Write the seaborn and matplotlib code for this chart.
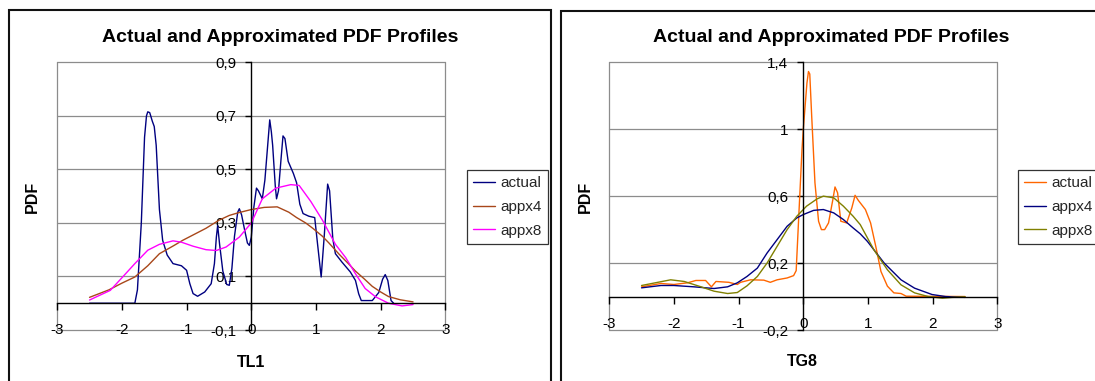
import numpy as np
import pandas as pd
import matplotlib
matplotlib.use("Agg")
import matplotlib.pyplot as plt
import seaborn as sns
from matplotlib.patches import Rectangle

# ---- data: TL1 panel ----
tl1_actual_x = [-2.5, -1.8, -1.76, -1.70, -1.65, -1.62, -1.60, -1.57, -1.53, -1.50, -1.47, -1.42,
                -1.37, -1.30, -1.21, -1.08, -1.0, -0.95, -0.90, -0.83, -0.72, -0.62, -0.57, -0.54,
                -0.52, -0.49, -0.44, -0.38, -0.34, -0.30, -0.26, -0.21, -0.185, -0.15, -0.10, -0.06,
                -0.03, 0.0, 0.04, 0.08, 0.11, 0.17, 0.21, 0.24, 0.285, 0.31, 0.33, 0.37, 0.39, 0.42,
                0.46, 0.49, 0.52, 0.57, 0.65, 0.70, 0.75, 0.80, 0.89, 0.98, 1.02, 1.08, 1.13, 1.18,
                1.21, 1.26, 1.30, 1.40, 1.53, 1.61, 1.66, 1.70, 1.87, 1.97, 2.03, 2.07, 2.11, 2.16, 2.2]
tl1_actual_y = [0.0, 0.0, 0.05, 0.30, 0.62, 0.70, 0.715, 0.712, 0.68, 0.66, 0.59, 0.35,
                0.235, 0.18, 0.148, 0.14, 0.123, 0.073, 0.036, 0.026, 0.042, 0.073, 0.148, 0.247,
                0.29, 0.22, 0.12, 0.07, 0.067, 0.13, 0.25, 0.34, 0.353, 0.33, 0.27, 0.225,
                0.216, 0.247, 0.36, 0.43, 0.42, 0.39, 0.46, 0.55, 0.685, 0.64, 0.59, 0.44, 0.39, 0.42,
                0.54, 0.625, 0.615, 0.53, 0.485, 0.45, 0.37, 0.335, 0.325, 0.32, 0.23, 0.098, 0.26, 0.445,
                0.42, 0.24, 0.185, 0.154, 0.117, 0.085, 0.035, 0.01, 0.01, 0.04, 0.09, 0.107, 0.085, 0.01, 0.0]

tl1_appx4_x = [-2.5, -2.2, -2.0, -1.8, -1.6, -1.42, -1.2, -1.06, -0.9, -0.7, -0.5, -0.34, -0.2,
               0.0, 0.2, 0.4, 0.58, 0.7, 0.84, 0.95, 1.1, 1.2, 1.35, 1.5, 1.61, 1.75, 1.87,
               2.0, 2.12, 2.3, 2.5]
tl1_appx4_y = [0.022, 0.05, 0.075, 0.098, 0.14, 0.185, 0.215, 0.235, 0.255, 0.28, 0.31, 0.328, 0.338,
               0.35, 0.358, 0.36, 0.34, 0.32, 0.30, 0.28, 0.25, 0.225, 0.185, 0.148, 0.12, 0.09, 0.063,
               0.042, 0.025, 0.013, 0.005]

tl1_appx8_x = [-2.5, -2.18, -2.0, -1.8, -1.6, -1.42, -1.21, -1.08, -0.9, -0.7, -0.54, -0.39, -0.185,
               0.0, 0.17, 0.38, 0.61, 0.74, 0.92, 1.1, 1.30, 1.46, 1.61, 1.76, 1.92, 2.12, 2.33, 2.5]
tl1_appx8_y = [0.012, 0.048, 0.095, 0.148, 0.198, 0.22, 0.233, 0.228, 0.213, 0.2, 0.197, 0.21, 0.247,
               0.30, 0.39, 0.43, 0.443, 0.44, 0.38, 0.31, 0.22, 0.17, 0.11, 0.055, 0.024, 0.0, -0.01, -0.005]

# ---- data: TG8 panel ----
tg8_actual_x = [-2.5, -2.2, -2.0, -1.79, -1.66, -1.51, -1.42, -1.35, -1.15, -1.02, -0.97, -0.815,
                -0.61, -0.51, -0.405, -0.25, -0.15, -0.11, -0.07, -0.02, 0.0, 0.056, 0.08, 0.1,
                0.13, 0.18, 0.236, 0.28, 0.33, 0.39, 0.457, 0.49, 0.53, 0.58, 0.67, 0.75, 0.80,
                0.85, 0.88, 0.96, 1.04, 1.12, 1.2, 1.30, 1.40, 1.51, 1.59, 2.5]
tg8_actual_y = [0.058, 0.078, 0.072, 0.082, 0.096, 0.096, 0.058, 0.09, 0.085, 0.072, 0.085, 0.10,
                0.098, 0.085, 0.10, 0.111, 0.125, 0.155, 0.48, 0.88, 1.0, 1.275, 1.345, 1.33,
                1.076, 0.68, 0.45, 0.40, 0.40, 0.44, 0.58, 0.655, 0.62, 0.45, 0.44, 0.53, 0.605,
                0.575, 0.56, 0.52, 0.44, 0.30, 0.15, 0.062, 0.022, 0.018, 0.002, 0.0]

tg8_appx4_x = [-2.5, -2.2, -2.0, -1.69, -1.38, -1.17, -1.02, -0.87, -0.71, -0.56, -0.405, -0.25,
               -0.1, 0.0, 0.16, 0.31, 0.47, 0.62, 0.77, 0.88, 0.99, 1.25, 1.51, 1.72, 1.99, 2.2, 2.5]
tg8_appx4_y = [0.052, 0.066, 0.066, 0.058, 0.048, 0.058, 0.082, 0.12, 0.17, 0.26, 0.34, 0.42,
               0.47, 0.49, 0.515, 0.52, 0.50, 0.46, 0.41, 0.375, 0.33, 0.20, 0.10, 0.05, 0.012, 0.0, -0.005]

tg8_appx8_x = [-2.5, -2.05, -1.84, -1.58, -1.38, -1.17, -1.02, -0.87, -0.71, -0.56, -0.405, -0.25,
               -0.1, 0.05, 0.21, 0.31, 0.47, 0.62, 0.77, 0.88, 1.09, 1.30, 1.51, 1.72, 1.93, 2.15, 2.3, 2.5]
tg8_appx8_y = [0.066, 0.10, 0.09, 0.058, 0.032, 0.018, 0.024, 0.064, 0.12, 0.20, 0.30, 0.40,
               0.48, 0.54, 0.583, 0.60, 0.59, 0.54, 0.48, 0.43, 0.28, 0.16, 0.07, 0.022, 0.0, -0.01, -0.005, -0.002]

series_names = ["actual", "appx4", "appx8"]
x_ticks = [-3, -2, -1, 0, 1, 2, 3]
x_tick_labels = ["-3", "-2", "-1", "0", "1", "2", "3"]
tl1_y_ticks = [-0.1, 0.1, 0.3, 0.5, 0.7, 0.9]
tl1_y_labels = ["-0,1", "0,1", "0,3", "0,5", "0,7", "0,9"]
tg8_y_ticks = [-0.2, 0.2, 0.6, 1.0, 1.4]
tg8_y_labels = ["-0,2", "0,2", "0,6", "1", "1,4"]
chart_title = "Actual and Approximated PDF Profiles"

sns.set_theme(style="white")
plt.rcParams["font.family"] = ["Liberation Sans", "DejaVu Sans"]

W, H = 1095, 381
fig = plt.figure(figsize=(W / 100, H / 100), dpi=100)


def fig_box(x0, y0, x1, y1):
    """Pixel box (top-left origin) -> figure fraction rect."""
    return [x0 / W, 1 - y1 / H, (x1 - x0) / W, (y1 - y0) / H]


def fx(x):
    return x / W


def fy(y):
    return 1 - y / H


GRID = "#8c8c8c"


def build_panel(ax, frames, colors, yticks, ylabels, xlabel, ylabel_pos, xlabel_pos,
                title_pos, legend_anchor, frame_box):
    # chart area frame
    x0, y0, x1, y1 = frame_box
    fig.patches.append(Rectangle((fx(x0), fy(y1)), (x1 - x0) / W, (y1 - y0) / H,
                                 transform=fig.transFigure, fill=False,
                                 edgecolor="#111111", linewidth=1.5, clip_on=False))
    lo, hi = yticks[0], yticks[-1]
    ax.set_xlim(-3, 3)
    ax.set_ylim(lo, hi)
    ax.patch.set_alpha(0)

    # gridlines and plot-area border
    for yv in yticks:
        ax.axhline(yv, color=GRID, lw=0.9, zorder=0, clip_on=False)
    for xv in (-3, 3):
        ax.axvline(xv, color=GRID, lw=0.9, zorder=0, clip_on=False)

    for (df, name), c in zip(frames, colors):
        sns.lineplot(data=df, x="x", y="y", ax=ax, color=c, lw=1.0, sort=False,
                     estimator=None, label=name, legend=False)
    # axes crossing at zero
    for s in ("top", "right"):
        ax.spines[s].set_visible(False)
    ax.spines["left"].set_position(("data", 0))
    ax.spines["bottom"].set_position(("data", 0))
    for s in ("left", "bottom"):
        ax.spines[s].set_color("black")
        ax.spines[s].set_linewidth(1.0)
        ax.spines[s].set_zorder(3)

    ax.set_xticks(x_ticks)
    ax.set_xticklabels(x_tick_labels)
    ax.set_yticks(yticks)
    ax.set_yticklabels(ylabels)
    ax.tick_params(axis="x", direction="out", length=5, width=1.0, color="black",
                   pad=9.5, labelsize=11, labelcolor="black", bottom=True)
    ax.tick_params(axis="y", direction="out", length=4, width=1.0, color="black",
                   pad=7, labelsize=11, labelcolor="black", left=True)
    ax.set_xlabel("")
    ax.set_ylabel("")
    ax.grid(False)

    fig.text(fx(title_pos[0]), fy(title_pos[1]), chart_title, ha="center", va="baseline",
             fontsize=14, fontweight="bold", color="black")
    fig.text(fx(xlabel_pos[0]), fy(xlabel_pos[1]), xlabel, ha="center", va="baseline",
             fontsize=11.5, fontweight="bold", color="black")
    fig.text(fx(ylabel_pos[0]), fy(ylabel_pos[1]), "PDF", ha="center", va="center",
             rotation=90, fontsize=11.5, fontweight="bold", color="black")

    leg = ax.legend(loc="upper left", bbox_to_anchor=(fx(legend_anchor[0]), fy(legend_anchor[1])),
                    bbox_transform=fig.transFigure, frameon=True, fancybox=False, shadow=False,
                    fontsize=11, handlelength=1.4, handletextpad=0.4, labelspacing=0.64,
                    borderpad=0.4, borderaxespad=0)
    leg.get_frame().set_edgecolor("black")
    leg.get_frame().set_linewidth(0.9)
    leg.get_frame().set_facecolor("white")
    leg.set_clip_on(False)


def frame_of(xs, ys):
    return pd.DataFrame({"x": xs, "y": ys})


ax1 = fig.add_axes(fig_box(57.2, 62.3, 445.4, 330))
build_panel(ax1,
            [(frame_of(tl1_actual_x, tl1_actual_y), series_names[0]),
             (frame_of(tl1_appx4_x, tl1_appx4_y), series_names[1]),
             (frame_of(tl1_appx8_x, tl1_appx8_y), series_names[2])],
            ["#000080", "#A8471A", "#FF00FF"],
            tl1_y_ticks, tl1_y_labels, "TL1",
            ylabel_pos=(32, 197), xlabel_pos=(251, 367), title_pos=(280.5, 42),
            legend_anchor=(467, 170), frame_box=(9, 10, 551, 395))

ax2 = fig.add_axes(fig_box(609.2, 62.3, 997.4, 330))
build_panel(ax2,
            [(frame_of(tg8_actual_x, tg8_actual_y), series_names[0]),
             (frame_of(tg8_appx4_x, tg8_appx4_y), series_names[1]),
             (frame_of(tg8_appx8_x, tg8_appx8_y), series_names[2])],
            ["#FF6600", "#000080", "#808000"],
            tg8_y_ticks, tg8_y_labels, "TG8",
            ylabel_pos=(585.5, 197), xlabel_pos=(802, 366), title_pos=(831, 42),
            legend_anchor=(1018, 170), frame_box=(561, 11, 1103, 395))

fig.savefig("out.png", dpi=100, facecolor="white")
